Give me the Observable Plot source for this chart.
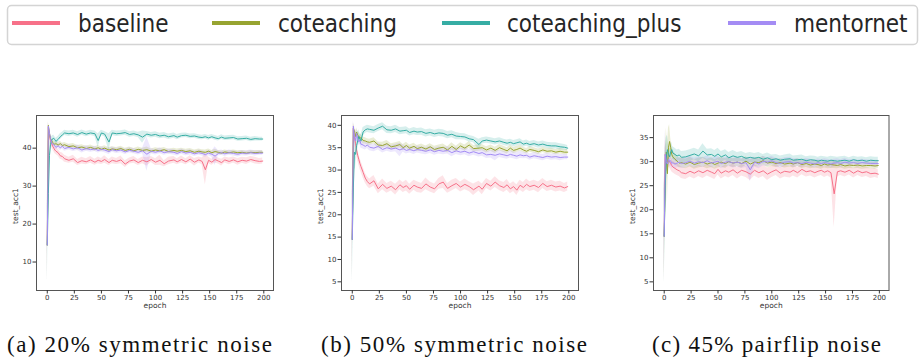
<!DOCTYPE html>
<html><head><meta charset="utf-8">
<script src="https://cdn.jsdelivr.net/npm/d3@7"></script>
<script src="https://cdn.jsdelivr.net/npm/@observablehq/plot@0.6"></script>
<style>
body{margin:0;background:#fff;width:922px;height:360px;position:relative;overflow:hidden;font-family:"DejaVu Sans",sans-serif}
.abs{position:absolute}
</style></head><body>
<script>
// ---------- data ----------
const epochs = [0,1,2,3,4,5,6,7,8,10,12,14,16,20,24,28,32,36,40,44,47,50,53,57,60,64,68,72,76,80,84,88,92,96,100,104,108,112,117,120,124,128,132,136,140,143,146,149,152,155,158,161,164,168,172,176,180,184,188,192,196,199];
const seriesNames = ["baseline","coteaching","coteaching_plus","mentornet"];
const seriesColors = ["#f77189","#97a431","#36ada4","#a48cf4"];
const xTicks = [0,25,50,75,100,125,150,175,200];
const captions = ["(a) 20% symmetric noise","(b) 50% symmetric noise","(c) 45% pairflip noise"];

// (a) 20% symmetric
const aBaseline = [14.5,45.5,43.5,42,41.2,40.5,40,39.5,39.2,38.8, 38,37.8,37.2,36.8,37.2,36.2,36.7,36.4,36.9,36.3, 36.8,36.5,37,36.2,36.8,36.5,36.9,35.8,36.6,36.9, 36.2,36.8,36.4,37,36.3,36.8,35.9,36.6,36.9,36.4, 37,36.4,37.1,36.3,36.9,36.5,34.3,36.8,36.3,37, 36.6,36.2,36.9,36.5,36.9,36.4,36.8,36.6,37,36.7, 36.5,36.6];
const aCoteaching = [14.5,46,44,42.5,42,41.5,41.2,41,41.2,40.8, 41.2,40.7,40.9,40.4,40.6,40.1,40.3,39.9,40.2,39.8, 40.1,39.7,40,39.5,39.8,39.6,39.9,39.4,39.7,39.3, 39.7,39.4,39.6,39.2,39.5,39.3,39.6,39.1,39.4,39.2, 39.4,39.1,39.3,38.9,39.2,39,38.9,39.2,38.8,39.1, 38.9,38.7,39,38.8,39,38.8,38.9,38.7,38.9,38.8, 38.9,38.9];
const aPlus = [14.5,28,38,41,42,42.5,42.6,42.2,41.8,42.3, 43,43.5,44,43.8,44,43.6,44.1,43.7,44,43.8, 42,44,43.7,41.6,44,43.8,43.9,44.1,43.6,43.8, 43.5,42.9,43.7,43.4,43.6,43.2,43.4,43,43.3,42.9, 43.3,43.4,43.1,43.2,42.9,42.8,43,42.7,43,42.7, 42.5,42.9,42.6,42.7,42.8,42.4,42.5,42.6,42.3,42.5, 42.4,42.4];
const aMentor = [14.5,45.8,44,42.5,41.5,41,41,40.6,40.2,40.6, 40.1,40.5,39.9,40.2,39.8,40.1,39.5,39.9,39.6,39.8, 39.4,39.7,39.5,39.1,39.6,39.3,39.5,39,39.4,39.2, 38.9,39.3,38.4,39.2,38.9,39.3,38.8,39.1,38.9,38.6, 39.1,38.7,38.9,38.5,38.8,38.6,38.3,38.7,38.4,37.9, 38.6,38.8,38.5,38.8,38.6,38.4,38.7,38.6,38.8,38.6, 38.7,38.7];
const aBaselineSd = [9.9,1,1,1,1,0.9,0.9,0.9,0.9,0.9, 0.9,0.9,0.9,0.8,0.9,0.8,0.9,0.8,0.9,0.8, 0.9,0.8,1,0.8,0.9,0.8,1,0.9,0.8,0.9, 0.8,0.9,1.1,0.8,0.9,1.3,0.8,1,0.9,0.8, 0.9,0.8,0.9,1,0.8,0.9,4,0.9,0.8,0.9, 0.8,0.9,0.8,0.9,0.8,0.9,0.8,0.9,0.8,0.9, 0.8,0.8];
const aCoteachingSd = [9.9,1,0.8,0.7,0.7,0.6,0.6,0.6,0.6,0.6, 0.6,0.6,0.6,0.6,0.6,0.6,0.6,0.6,0.6,0.6, 0.6,0.6,0.6,0.7,0.6,0.6,0.6,0.6,0.6,0.6, 0.6,0.6,0.7,0.6,0.6,0.6,0.6,0.6,0.6,0.6, 0.6,0.6,0.6,0.6,0.6,0.6,0.6,0.6,0.6,0.6, 0.5,0.5,0.5,0.5,0.5,0.5,0.5,0.5,0.5,0.5, 0.5,0.5];
const aPlusSd = [9.9,6,3,1.5,1,0.8,0.8,0.8,0.8,0.8, 0.8,0.7,0.7,0.7,0.7,0.7,0.7,0.7,0.7,0.7, 1.8,0.7,0.7,2.2,0.7,0.7,0.7,0.7,0.7,0.7, 0.7,1.6,0.7,0.7,0.7,0.7,0.7,0.7,0.7,0.7, 0.6,0.6,0.6,0.6,0.6,0.6,0.6,0.6,0.6,0.6, 0.6,0.6,0.6,0.6,0.6,0.6,0.6,0.6,0.6,0.6, 0.5,0.5];
const aMentorSd = [9.9,1,0.8,0.8,0.8,0.7,0.7,0.7,0.7,0.7, 0.7,0.7,0.7,0.7,0.7,0.7,0.8,0.7,0.7,0.7, 0.7,0.7,0.7,0.8,0.7,0.7,0.7,0.7,0.7,0.7, 0.7,0.7,4.5,0.7,0.7,0.8,0.7,0.7,0.7,0.7, 0.7,0.7,0.7,0.7,0.7,0.7,0.7,0.7,0.7,2.5, 0.7,0.7,0.7,0.7,0.7,0.7,0.7,0.7,0.7,0.7, 0.6,0.6];

// (b) 50% symmetric
const bBaseline = [14.5,39.3,37.5,36,34.5,33.3,32.4,31.5,30.8,29.5, 28.2,27.4,26.9,27.6,25.8,26.8,25.9,26.4,25.6,26.7, 26.1,26.5,25.7,26.6,26.2,25.9,26.9,26.2,25.8,26.9, 27.3,25.9,26.5,27,26.2,26.8,26.3,25.6,26.4,25.7, 27,26.4,27.3,26.5,26.1,26.7,25.8,26.3,25.5,26.6, 26.1,26.8,26.3,26.6,26.1,27,26.3,26.6,26.2,26.4, 26,26.3];
const bCoteaching = [14.5,39.3,38.8,37.5,38.5,37.8,37.6,37,37.3,36.6, 36.5,36.3,36.2,36.5,35.6,35.5,35.9,35.2,35.4,35.7, 35,35.5,34.9,35.3,34.8,35.1,34.7,35.2,34.6,34.9, 35.1,34.5,35.3,34.6,35.4,34.9,35.6,34.8,34.9,35, 34.5,34.9,34.4,35,34.6,34.3,34.9,34.4,34.6,34.9, 34.5,34.2,34.6,34.4,34.1,34.5,34.2,34.3,34,34.2, 34,34];
const bPlus = [14.5,26,34,33.5,35.5,36.5,37.5,37,36.5,38.5, 39,39.2,39.1,38.9,39.4,39.8,39,38.9,39.2,38.7, 38.8,38.9,38.4,38.7,38.5,38.6,38.2,38.4,38.1,38.3, 38.2,37.8,38,37.6,37.5,37.4,37,36.8,35.7,36.5, 36.7,36.5,36.3,36.5,36.2,36,36.2,35.9,36.1,36.3, 35.8,36,35.7,35.9,35.6,35.8,35.5,35.4,35.4,35.2, 35.1,34.9];
const bMentor = [14.5,39.8,37.5,36.5,38.2,37,36.3,36.7,35.8,35.6, 35.3,35.6,35.1,34.9,35.3,34.6,35,34.7,34.9,34.5, 34.8,34.4,34.6,34.3,34.6,34.4,34.2,34.5,34.1,34.4, 34.2,34.4,33.9,34.3,34,34.2,33.8,34.1,33.7,33.9, 33.4,33.5,33.3,33.6,33.4,33.2,33.5,33.3,33.1,33.4, 33.2,33.3,32.9,33.2,33,32.8,33.1,32.9,33,32.8, 32.9,32.9];
const bBaselineSd = [9.9,1,1,1.2,1.2,1.2,1.2,1.2,1.2,1.2, 1.1,1.1,1.1,1.2,1.1,1.2,1.1,1.1,1.2,1.1, 1.1,1.2,1.1,1.1,1.2,1.1,1.3,1.1,1.1,1.2, 1.4,1.1,1.2,1.1,1.1,1.2,1.1,1.3,1.1,1.2, 1.1,1.1,1.2,1.1,1.1,1.2,1.1,1.1,1.2,1.1, 1.1,1.2,1.1,1.1,1.2,1.1,1.1,1.1,1.1,1.1, 1,1];
const bCoteachingSd = [9.9,1.2,1,1,0.9,0.9,0.8,0.8,0.8,0.8, 0.7,0.7,0.7,0.7,0.7,0.7,0.7,0.7,0.7,0.7, 0.7,0.7,0.7,0.7,0.7,0.7,0.7,0.7,0.7,0.7, 0.7,0.7,0.8,0.7,0.7,0.7,0.8,0.7,0.7,0.7, 0.7,0.7,0.7,0.7,0.7,0.7,0.7,0.7,0.7,0.7, 0.6,0.6,0.6,0.6,0.6,0.6,0.6,0.6,0.6,0.6, 0.6,0.6];
const bPlusSd = [9.9,8,4,3,2.5,2,1.5,1.2,1.2,1, 0.8,0.8,0.8,0.8,0.8,0.8,0.8,0.8,0.8,0.8, 0.8,0.8,0.8,0.8,0.8,0.8,0.8,0.8,0.8,0.8, 0.8,0.8,0.8,0.8,0.7,0.7,0.7,0.7,1.2,0.7, 0.7,0.7,0.7,0.7,0.7,0.7,0.7,0.7,0.7,0.7, 0.7,0.7,0.7,0.7,0.7,0.7,0.7,0.7,0.7,0.7, 0.6,0.6];
const bMentorSd = [9.9,1.2,1.5,1.2,1,1,0.9,0.9,0.9,0.9, 0.8,0.8,0.8,0.8,0.8,0.8,0.8,0.8,0.8,1.5, 0.8,0.8,0.8,0.8,0.8,0.8,0.8,0.8,0.8,0.8, 0.8,0.8,0.9,0.8,0.8,0.8,0.8,0.8,0.8,0.8, 0.8,0.8,1.2,0.8,0.8,0.8,0.8,0.8,0.8,0.8, 0.7,0.7,0.7,0.7,0.7,0.7,0.7,0.7,0.7,0.7, 0.6,0.6];

// (c) 45% pairflip
const cBaseline = [14.5,31.5,30,29.8,30.3,30,29.6,29.2,28.9,28.6, 28.3,28.1,27.7,27.5,28,27.6,28.1,27.7,28.2,27.8, 27.5,28.4,27.6,28.1,27.8,28.3,27.6,28.2,27.9,27.4, 28.2,27.7,28.1,27.4,27.9,28.3,27.6,28,27.8,28.2, 27.7,28.4,27.9,28.1,27.7,28,28.2,27.8,28.1,27.7, 23.3,27.9,28.1,27.8,28.2,27.6,28.1,27.7,27.9,27.5, 27.6,27.4];
const cCoteaching = [14.5,26,32,27.5,33,34.2,33,31.5,31,30.5, 30.1,29.7,29.8,29.5,29.9,29.4,29.7,29.9,29.5,29.8, 29.4,29.7,29.9,29.6,30,29.7,29.9,29.6,30.1,29.5, 29.9,29.8,30.2,29.7,29.9,29.6,29.8,29.5,29.7,29.5, 29.8,29.4,29.6,29.3,29.5,29.4,29.2,29.5,29.3,29.4, 29.3,29.2,29.4,29.1,29.3,29.2,29.3,29.1,29.2,29.2, 29.1,29.2];
const cPlus = [14.5,25,31,32.5,31.5,31,32,32.5,31.8,31.5, 31.2,31.4,30.9,31,31.3,31.6,31.2,32.2,31.4,31.5, 31.1,31.6,31,31.4,30.8,31.2,30.9,31.1,30.7,30.9, 30.7,30.9,30.5,30.8,30.4,30.6,30.3,30.5,30.6,30.3, 30.4,30.5,30.2,30.4,30.3,30.1,30.3,30.2,30.1,30.3, 30.2,30.1,30.2,30.3,30.1,30.4,30.2,30.3,30.1,30.3, 30.2,30.2];
const cMentor = [14.5,31.5,30,29.5,30.5,30,30.2,29.6,29.8,29.5, 29.7,29.9,29.6,29.8,30.1,29.7,30,29.8,30.2,29.7, 29.9,30.1,29.6,29.9,30,29.7,29.9,29.6,29.8,28.3, 29.9,29.5,30.1,29.9,30.2,29.8,29.6,29.9,30,29.7, 29.8,29.6,29.9,29.7,29.5,29.8,29.6,29.8,29.7,29.5, 29.7,29.8,29.6,29.9,29.7,29.8,29.6,29.8,29.7,29.6, 29.6,29.6];
const cBaselineSd = [9.9,3,2,1.5,1.5,1.3,1.3,1.3,1.2,1.2, 1.2,1.2,1.2,1.2,1.2,1.2,1.2,1.2,1.2,1.2, 1.2,1.2,1.2,1.2,1.2,1.2,1.2,1.2,1.2,1.3, 1.2,1.2,1.2,1.3,1.2,1.2,1.2,1.2,1.2,1.2, 1.1,1.1,1.1,1.1,1.1,1.1,1.1,1.1,1.1,1.1, 7,1.1,1,1,1,1,1,1,1,1, 0.9,0.9];
const cCoteachingSd = [9.9,6,5,6,4,3.5,2,1.5,1.3,1.2, 1,1,1,1,1,1,1,1,1,1, 1,1,1,1,0.9,0.9,0.9,0.9,0.9,0.9, 0.9,0.9,0.9,0.9,0.9,0.8,0.8,0.8,0.8,0.8, 0.8,0.8,0.8,0.8,0.8,0.8,0.8,0.8,0.8,0.8, 0.7,0.7,0.7,0.7,0.7,0.7,0.7,0.7,0.7,0.7, 0.7,0.7];
const cPlusSd = [9.9,8,4,3,2,1.5,1.5,1.5,1.3,1.3, 1.2,1.2,1.2,1.2,1.2,1.2,1.2,1.5,1.2,1.2, 1.2,1.2,1.1,1.1,1.1,1.1,1,1,1,1, 1,1,1,1,1,0.9,0.9,0.9,1,0.9, 0.9,0.9,0.8,0.8,0.8,0.8,0.8,0.8,0.8,0.8, 0.8,0.8,0.8,0.8,0.7,0.7,0.7,0.7,0.7,0.7, 0.7,0.7];
const cMentorSd = [9.9,5,2,1.5,1.2,1.1,1.1,1,1,1, 1,1,1,1,1,1,1,1,1,1, 1,1,1,1,1,1,1,1,1,2.5, 1,1,1,0.9,0.9,0.9,0.9,0.9,0.9,0.9, 0.8,0.8,0.8,0.8,0.8,0.8,0.8,0.8,0.8,0.8, 0.8,0.8,0.8,0.8,0.7,0.7,0.7,0.7,0.7,0.7, 0.7,0.7];

const yTicksA = [10,20,30,40];
const yTicksB = [5,10,15,20,25,30,35,40];
const yTicksC = [5,10,15,20,25,30,35];

// ---------- legend ----------
const legendLayout = [{lx: 12, tx: 78}, {lx: 212, tx: 278}, {lx: 442, tx: 507}, {lx: 728, tx: 794}];
const NS = "http://www.w3.org/2000/svg";
function el(tag, attrs, text) {
  const e = document.createElementNS(NS, tag);
  for (const k in attrs) e.setAttribute(k, attrs[k]);
  if (text != null) e.textContent = text;
  return e;
}
const leg = el("svg", {width: 922, height: 50, class: "abs", style: "left:0;top:0"});
leg.appendChild(el("rect", {x: 7.5, y: 5.5, width: 910, height: 39, rx: 4, fill: "#fff", stroke: "#d4d4d4", "stroke-width": 1.5}));
seriesNames.forEach((s, k) => {
  const L = legendLayout[k];
  leg.appendChild(el("line", {x1: L.lx, x2: L.lx + 48, y1: 23, y2: 23, stroke: seriesColors[k], "stroke-width": 4}));
  leg.appendChild(el("text", {transform: `translate(${L.tx},32) scale(1,1.16)`, "font-family": "DejaVu Sans", "font-size": 21.6, fill: "#262626"}, s));
});
document.body.appendChild(leg);

// ---------- panels ----------
function panel(means, sds, yDomain, yTicks, left, frameW) {
  const rows = [];
  seriesNames.forEach((s, k) => {
    epochs.forEach((e, i) => {
      const v = means[k][i], d = sds[k][i];
      rows.push({series: s, epoch: e, v, lo: v - d, hi: v + d});
    });
  });
  const chart = Plot.plot({
    width: frameW + 36 + 8, height: 175 + 4 + 32,
    marginLeft: 36, marginRight: 8, marginTop: 4, marginBottom: 32,
    style: {fontFamily: "DejaVu Sans", fontSize: "7px", color: "#333", background: "transparent"},
    x: {domain: [-9.95, 208.95]},
    y: {domain: yDomain},
    color: {domain: seriesNames, range: seriesColors},
    marks: [
      Plot.area(rows, {x1: "epoch", y1: "lo", y2: "hi", z: "series", fill: "series", fillOpacity: 0.2}),
      Plot.line(rows, {x: "epoch", y: "v", z: "series", stroke: "series", strokeWidth: 1}),
      Plot.frame({stroke: "#555", strokeWidth: 1}),
      Plot.axisX({ticks: xTicks, tickSize: 3.5, tickPadding: 1.5, label: null}),
      Plot.axisY({ticks: yTicks, tickSize: 3.5, tickPadding: 1.5, label: null}),
      Plot.text(["epoch"], {frameAnchor: "bottom", dy: 17.5, fontSize: 7.5, fill: "#333"}),
      Plot.text(["test_acc1"], {frameAnchor: "left", dx: -21, dy: 3, rotate: -90, textAnchor: "middle", lineAnchor: "middle", fontSize: 7.5, fill: "#333"})
    ]
  });
  chart.classList.add("abs");
  chart.style.left = left + "px";
  chart.style.top = "111px";
  document.body.appendChild(chart);
}
panel([aBaseline, aCoteaching, aPlus, aMentor], [aBaselineSd, aCoteachingSd, aPlusSd, aMentorSd], [2.5, 48.6], yTicksA, 0, 237);
panel([bBaseline, bCoteaching, bPlus, bMentor], [bBaselineSd, bCoteachingSd, bPlusSd, bMentorSd], [3.06, 42.2], yTicksB, 305, 237);
panel([cBaseline, cCoteaching, cPlus, cMentor], [cBaselineSd, cCoteachingSd, cPlusSd, cMentorSd], [3.2, 39.6], yTicksC, 617, 235.5);

// ---------- captions ----------
const capLayout = [{x: 7, w: 265}, {x: 321, w: 266}, {x: 652, w: 229}];
const cap = el("svg", {width: 922, height: 40, class: "abs", style: "left:0;top:320px"});
captions.forEach((c, k) => {
  cap.appendChild(el("text", {x: capLayout[k].x, y: 32, "font-family": "'Liberation Serif', 'Times New Roman', serif", "font-size": 23, fill: "#111", textLength: capLayout[k].w, lengthAdjust: "spacing"}, c));
});
document.body.appendChild(cap);
</script>
</body></html>
